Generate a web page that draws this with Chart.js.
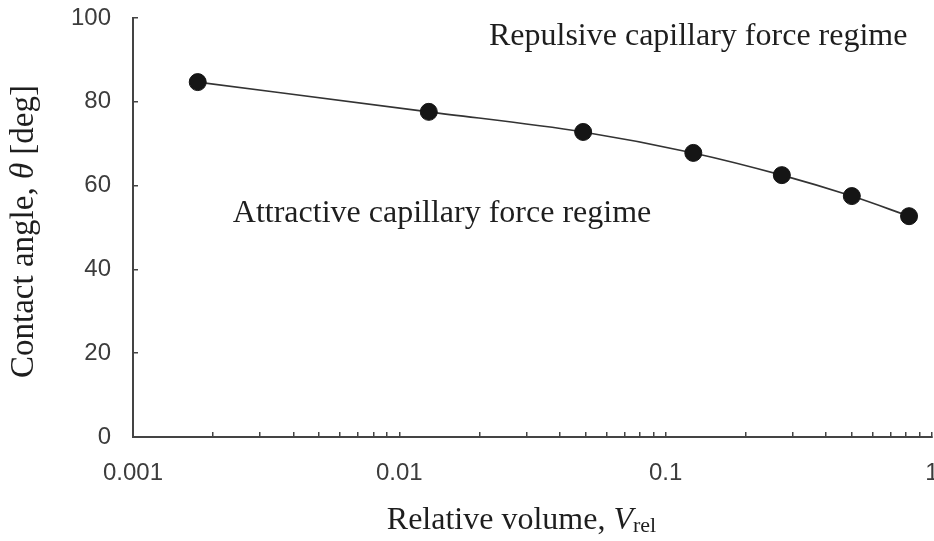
<!DOCTYPE html>
<html>
<head>
<meta charset="utf-8">
<script src="https://cdn.jsdelivr.net/npm/chart.js@4/dist/chart.umd.min.js"></script>
<style>
  html, body { margin: 0; padding: 0; background: #ffffff; }
  #wrap { width: 934px; height: 541px; position: relative; }
</style>
</head>
<body>
<div id="wrap"><canvas id="c" width="934" height="541"></canvas></div>
<script>
// ---- data ----
const relativeVolume = [0.00175, 0.0129, 0.049, 0.127, 0.273, 0.50, 0.82];
const contactAngle   = [84.7, 77.6, 72.8, 67.8, 62.5, 57.5, 52.7];

const xTickValues = [
  0.001, 0.002, 0.003, 0.004, 0.005, 0.006, 0.007, 0.008, 0.009,
  0.01, 0.02, 0.03, 0.04, 0.05, 0.06, 0.07, 0.08, 0.09,
  0.1, 0.2, 0.3, 0.4, 0.5, 0.6, 0.7, 0.8, 0.9, 1
];
const xDecades    = [0.001, 0.01, 0.1, 1];
const xTickLabels = ['0.001', '0.01', '0.1', '1'];
const yTickValues = [0, 20, 40, 60, 80, 100];
const yTickLabels = ['0', '20', '40', '60', '80', '100'];

const regimeLabels = ['Repulsive capillary force regime', 'Attractive capillary force regime'];
const xTitleParts = ['Relative volume, ', 'V', 'rel'];
const yTitleParts = ['Contact angle, ', '\u03B8', ' [deg]'];

// ---- drawing helpers ----
const SERIF = "'Liberation Serif', 'Times New Roman', Times, serif";
const SANS  = "'Liberation Sans', Arial, Helvetica, sans-serif";

function drawRich(ctx, parts, cx, baseline) {
  let total = 0;
  parts.forEach(p => { ctx.font = p.font; p.w = ctx.measureText(p.text).width; total += p.w; });
  let x = cx - total / 2;
  parts.forEach(p => {
    ctx.font = p.font;
    ctx.fillText(p.text, x, baseline + (p.dy || 0));
    x += p.w;
  });
}

const textPlugin = {
  id: 'textPlugin',
  afterDraw(chart) {
    const { ctx, chartArea, scales } = chart;
    ctx.save();
    ctx.fillStyle = '#1e1e1e';
    ctx.textAlign = 'left';
    ctx.textBaseline = 'alphabetic';

    // x axis title
    drawRich(ctx, [
      { text: xTitleParts[0], font: '32px ' + SERIF },
      { text: xTitleParts[1], font: 'italic 32px ' + SERIF },
      { text: xTitleParts[2], font: '22px ' + SERIF, dy: 3 }
    ], (chartArea.left + chartArea.right) / 2 - 11, chartArea.bottom + 92);

    // y axis title (rotated)
    ctx.save();
    ctx.translate(chartArea.left - 100, (chartArea.top + chartArea.bottom) / 2 + 4);
    ctx.rotate(-Math.PI / 2);
    drawRich(ctx, [
      { text: yTitleParts[0], font: '33px ' + SERIF },
      { text: yTitleParts[1], font: 'italic 33px ' + SERIF },
      { text: yTitleParts[2], font: '33px ' + SERIF }
    ], 0, 0);
    ctx.restore();

    // regime annotations, anchored in data coordinates
    ctx.font = '32px ' + SERIF;
    const anchors = [[0.0217, 93.6], [0.00237, 51.3]];
    regimeLabels.forEach((t, i) => {
      ctx.fillText(t, scales.x.getPixelForValue(anchors[i][0]), scales.y.getPixelForValue(anchors[i][1]));
    });
    ctx.restore();
  }
};

new Chart(document.getElementById('c'), {
  type: 'line',
  data: {
    datasets: [{
      data: relativeVolume.map((v, i) => ({ x: v, y: contactAngle[i] })),
      borderColor: '#333333',
      borderWidth: 1.6,
      cubicInterpolationMode: 'monotone',
      pointRadius: 8.5,
      pointHoverRadius: 8.5,
      pointBackgroundColor: '#151515',
      pointBorderColor: '#151515',
      pointBorderWidth: 1,
      clip: false,
      fill: false
    }]
  },
  options: {
    responsive: false,
    animation: false,
    devicePixelRatio: 1,
    layout: { autoPadding: false, padding: { left: 0, right: 2, top: 18, bottom: 0 } },
    plugins: { legend: { display: false }, tooltip: { enabled: false }, title: { display: false } },
    scales: {
      x: {
        type: 'logarithmic',
        min: 0.001, max: 1,
        position: 'bottom',
        afterBuildTicks: s => { s.ticks = xTickValues.map(v => ({ value: v })); },
        afterFit: s => { s.height = 104; s.paddingLeft = 0; s.paddingRight = 0; },
        ticks: {
          autoSkip: false, maxRotation: 0, minRotation: 0,
          padding: 27,
          color: '#3c3c3c',
          font: { family: SANS, size: 24 },
          callback: v => {
            const i = xDecades.findIndex(d => Math.abs(d - v) < d * 1e-6);
            return i >= 0 ? xTickLabels[i] : '';
          }
        },
        grid: { drawOnChartArea: false, drawTicks: true, tickLength: -5, color: '#444', lineWidth: 1.5 },
        border: { display: true, color: '#444', width: 2 }
      },
      y: {
        min: 0, max: 100,
        afterBuildTicks: s => { s.ticks = yTickValues.map(v => ({ value: v })); },
        afterFit: s => { s.width = 133; s.paddingTop = 0; s.paddingBottom = 0; },
        ticks: {
          padding: 27,
          color: '#3c3c3c',
          font: { family: SANS, size: 24 },
          callback: v => { const i = yTickValues.indexOf(v); return i >= 0 ? yTickLabels[i] : ''; }
        },
        grid: { drawOnChartArea: false, drawTicks: true, tickLength: -5, color: '#444', lineWidth: 1.5 },
        border: { display: true, color: '#444', width: 2 }
      }
    }
  },
  plugins: [textPlugin]
});
</script>
</body>
</html>
